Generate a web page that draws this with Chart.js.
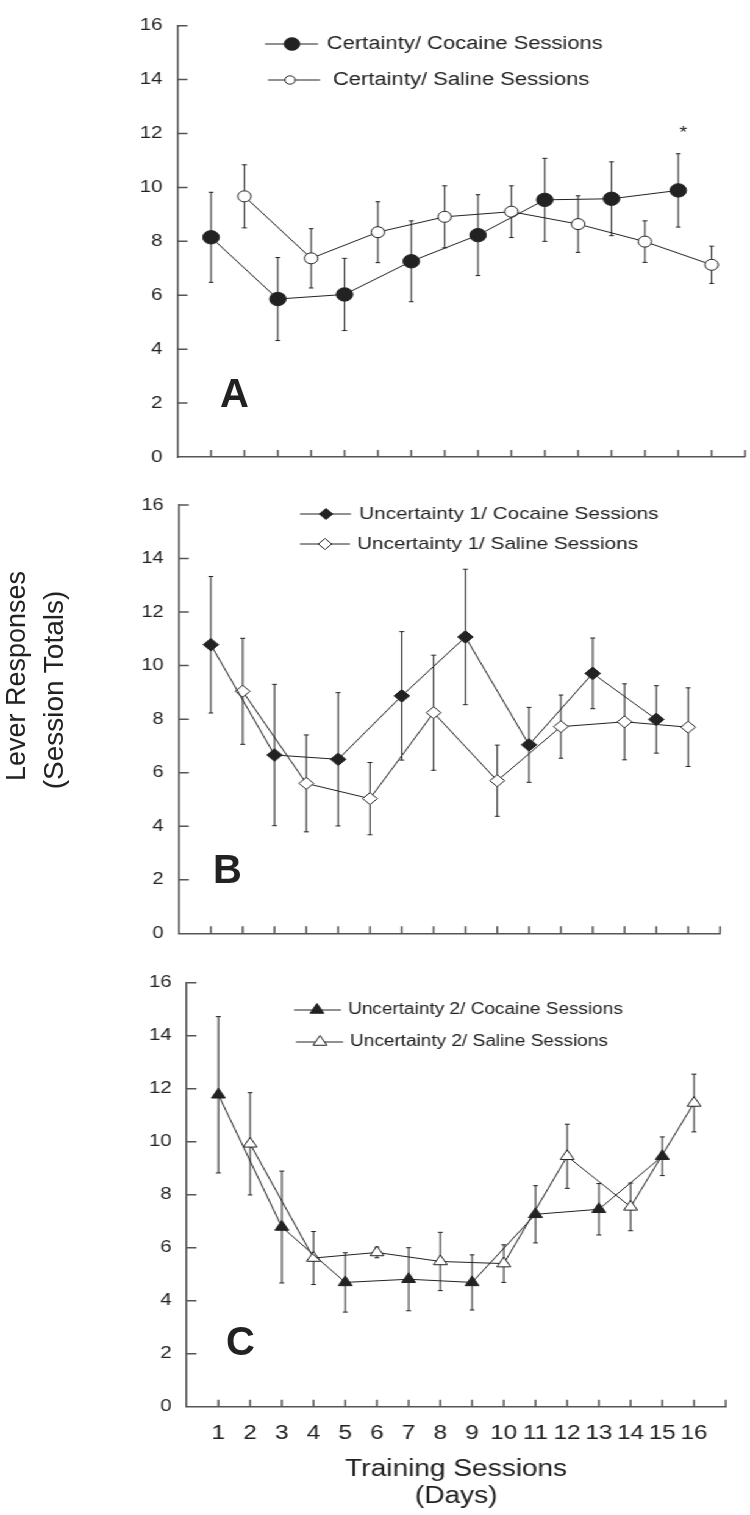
<!DOCTYPE html>
<html>
<head>
<meta charset="utf-8">
<script src="https://cdn.jsdelivr.net/npm/chart.js@4.4.1/dist/chart.umd.min.js"></script>
<style>
  html, body { margin: 0; padding: 0; background: #fff; }
  body { width: 750px; height: 1515px; position: relative; overflow: hidden;
         font-family: 'Liberation Sans', Arial, sans-serif; color: #222; }
  /* the original figure is stretched sideways, so draw narrow and widen it */
  #stretch { position: absolute; left: 0; top: 0; width: 615px; height: 1515px;
             transform: scaleX(1.21951); transform-origin: 0 0; }
  .panel { position: absolute; left: 0; width: 615px; }
  .letter { position: absolute; font-weight: bold; font-size: 40px; line-height: 40px; }
  .ytitle { position: absolute; white-space: nowrap; line-height: 30px;
            transform: translate(-50%, -50%) rotate(-90deg); }
</style>
</head>
<body>
<div id="stretch">
  <div class="panel" style="top:0;height:480px"><canvas id="chartA"></canvas></div>
  <div class="panel" style="top:480px;height:480px"><canvas id="chartB"></canvas></div>
  <div class="panel" style="top:955px;height:560px"><canvas id="chartC"></canvas></div>
</div>
<div class="letter" style="left:220px;top:373px">A</div>
<div class="letter" style="left:213px;top:849px">B</div>
<div class="letter" style="left:226px;top:1321px">C</div>
<div class="ytitle" style="left:16px;top:676px;font-size:27px">Lever Responses</div>
<div class="ytitle" style="left:54px;top:690px;font-size:28px">(Session Totals)</div>
<script>
// training days, cocaine sessions on odd days, saline on even days
const oddDays = [1, 3, 5, 7, 9, 11, 13, 15];
const evenDays = [2, 4, 6, 8, 10, 12, 14, 16];
const xTickLabels = ['1', '2', '3', '4', '5', '6', '7', '8', '9', '10', '11', '12', '13', '14', '15', '16'];
const yTicks = [0, 2, 4, 6, 8, 10, 12, 14, 16];

// A - certainty
const certCocaine = [8.15, 5.86, 6.03, 7.26, 8.23, 9.54, 9.58, 9.89];
const certCocaineErr = [1.67, 1.54, 1.34, 1.50, 1.50, 1.54, 1.37, 1.36];
const certSaline = [9.67, 7.37, 8.34, 8.91, 9.10, 8.64, 7.99, 7.13];
const certSalineErr = [1.17, 1.10, 1.13, 1.15, 0.96, 1.05, 0.77, 0.69];

// B - uncertainty 1
const unc1Cocaine = [10.78, 6.66, 6.50, 8.87, 11.07, 7.04, 9.71, 7.99];
const unc1CocaineErr = [2.55, 2.64, 2.49, 2.40, 2.53, 1.40, 1.32, 1.26];
const unc1Saline = [9.04, 5.60, 5.03, 8.24, 5.70, 7.72, 7.90, 7.70];
const unc1SalineErr = [1.98, 1.81, 1.35, 2.15, 1.33, 1.18, 1.42, 1.47];

// C - uncertainty 2
const unc2Cocaine = [11.77, 6.78, 4.69, 4.81, 4.69, 7.26, 7.45, 9.45];
const unc2CocaineErr = [2.95, 2.11, 1.12, 1.19, 1.04, 1.08, 0.97, 0.73];
const unc2Saline = [9.92, 5.61, 5.82, 5.48, 5.40, 9.45, 7.54, 11.46];
const unc2SalineErr = [1.93, 1.00, 0.20, 1.10, 0.71, 1.21, 0.90, 1.09];

Chart.defaults.font.family = "'Liberation Sans', Arial, sans-serif";
Chart.defaults.color = '#222';
Chart.defaults.animation = false;

const ink = '#222';
const axisInk = '#555';
const W = 615;

const series = (label, days, means, errs, style, radius, fill) => ({
  label: label,
  data: days.map((d, i) => ({ x: d, y: means[i] })),
  errors: errs,
  borderColor: ink,
  borderWidth: 1,
  pointStyle: style,
  pointRadius: radius,
  pointHoverRadius: radius,
  pointBackgroundColor: fill,
  pointBorderColor: ink,
  pointBorderWidth: 1,
  tension: 0,
  fill: false,
});

// error bars, inward ticks, legend and star
const panelExtras = {
  id: 'panelExtras',
  beforeDatasetsDraw(chart) {
    const { ctx } = chart;
    const x = chart.scales.x, y = chart.scales.y;
    const cap = 2;
    ctx.save();
    ctx.strokeStyle = ink;
    ctx.lineWidth = 1;
    chart.data.datasets.forEach((ds) => {
      ds.data.forEach((p, i) => {
        const e = ds.errors[i];
        const px = x.getPixelForValue(p.x);
        const top = y.getPixelForValue(p.y + e);
        const bot = y.getPixelForValue(p.y - e);
        ctx.beginPath();
        ctx.moveTo(px, top); ctx.lineTo(px, bot);
        ctx.moveTo(px - cap, top); ctx.lineTo(px + cap, top);
        ctx.moveTo(px - cap, bot); ctx.lineTo(px + cap, bot);
        ctx.stroke();
      });
    });
    ctx.restore();
  },
  afterDraw(chart, args, opts) {
    const { ctx, chartArea } = chart;
    const x = chart.scales.x, y = chart.scales.y;
    ctx.save();
    // ticks pointing into the plot
    ctx.strokeStyle = axisInk;
    ctx.lineWidth = 1.5;
    ctx.beginPath();
    yTicks.forEach((v) => {
      if (v === 0) return;
      const py = y.getPixelForValue(v);
      ctx.moveTo(chartArea.left, py); ctx.lineTo(chartArea.left + 8, py);
    });
    x.ticks.map((t) => t.value).concat([x.max]).forEach((v) => {
      const px = x.getPixelForValue(v);
      ctx.moveTo(px, chartArea.bottom); ctx.lineTo(px, chartArea.bottom - 7);
    });
    ctx.stroke();

    // legend: line - marker - text
    ctx.font = opts.legendFont + "px 'Liberation Sans', Arial, sans-serif";
    ctx.textBaseline = 'middle';
    ctx.textAlign = 'left';
    opts.legend.forEach((item, i) => {
      const ds = chart.data.datasets[i];
      ctx.strokeStyle = ink;
      ctx.lineWidth = 1;
      ctx.beginPath();
      ctx.moveTo(item.x1, item.y); ctx.lineTo(item.x2, item.y);
      ctx.stroke();
      ctx.fillStyle = ds.pointBackgroundColor;
      Chart.helpers.drawPoint(ctx, { pointStyle: ds.pointStyle, radius: item.r, borderWidth: 1, rotation: 0 }, item.mx, item.y);
      ctx.fillStyle = ink;
      ctx.fillText(ds.label, item.tx, item.y);
    });

    if (opts.star) {
      ctx.font = "16px 'Liberation Sans', Arial, sans-serif";
      ctx.textAlign = 'center';
      ctx.fillText('*', x.getPixelForValue(opts.star.day), y.getPixelForValue(opts.star.value));
    }
    ctx.restore();
  },
};

function makePanel(id, datasets, box, extras) {
  return new Chart(document.getElementById(id), {
    type: 'line',
    data: { datasets: datasets },
    plugins: [panelExtras],
    options: {
      responsive: true,
      maintainAspectRatio: false,
      events: [],
      layout: { autoPadding: false, padding: { left: 0, top: box.top, right: W - box.right, bottom: 0 } },
      plugins: {
        legend: { display: false },
        tooltip: { enabled: false },
        panelExtras: extras,
      },
      scales: {
        x: {
          type: 'linear',
          min: 0,
          max: 17,
          afterBuildTicks: (s) => { s.ticks = xTickLabels.map((t) => ({ value: Number(t) })); },
          afterFit: (s) => { s.height = box.h - box.bottom; },
          grid: { display: false, drawTicks: false },
          border: { display: true, color: axisInk, width: 1.5 },
          ticks: {
            display: !!box.labels,
            padding: 15,
            autoSkip: false,
            maxRotation: 0,
            font: { size: 20 },
            callback: (v) => xTickLabels[v - 1],
          },
          title: {
            display: !!box.labels,
            text: ['Training Sessions', '(Days)'],
            font: { size: 23, lineHeight: 27 / 23 },
            padding: { top: 0, bottom: 4.5 },
            color: ink,
          },
        },
        y: {
          min: 0,
          max: 16,
          afterBuildTicks: (s) => { s.ticks = yTicks.map((v) => ({ value: v })); },
          afterFit: (s) => { s.width = box.left; },
          grid: { display: false, drawTicks: false },
          border: { display: true, color: axisInk, width: 1.5 },
          ticks: { padding: 12.5, font: { size: 16.5 } },
        },
      },
    },
  });
}

makePanel('chartA', [
  series('Certainty/ Cocaine Sessions', oddDays, certCocaine, certCocaineErr, 'circle', 6.7, ink),
  series('Certainty/ Saline Sessions', evenDays, certSaline, certSalineErr, 'circle', 5.5, '#fff'),
], { left: 145.7, right: 610.9, top: 25.7, bottom: 457, h: 480 }, {
  legendFont: 18,
  legend: [
    { x1: 217.3, x2: 260.8, mx: 239.4, tx: 268.1, y: 44, r: 6.3 },
    { x1: 219.8, x2: 262.4, mx: 237.8, tx: 273.1, y: 80, r: 4.2 },
  ],
  star: { day: 15.15, value: 12.0 },
});

makePanel('chartB', [
  series('Uncertainty 1/ Cocaine Sessions', oddDays, unc1Cocaine, unc1CocaineErr, 'rectRot', 6.3, ink),
  series('Uncertainty 1/ Saline Sessions', evenDays, unc1Saline, unc1SalineErr, 'rectRot', 6.0, '#fff'),
], { left: 146.8, right: 590.4, top: 25, bottom: 453.3, h: 480 }, {
  legendFont: 17,
  legend: [
    { x1: 246, x2: 287.8, mx: 267.3, tx: 294.4, y: 34, r: 5.5 },
    { x1: 246, x2: 287, mx: 266.5, tx: 292.7, y: 64, r: 5.5 },
  ],
});

makePanel('chartC', [
  series('Uncertainty 2/ Cocaine Sessions', oddDays, unc2Cocaine, unc2CocaineErr, 'triangle', 6.5, ink),
  series('Uncertainty 2/ Saline Sessions', evenDays, unc2Saline, unc2SalineErr, 'triangle', 6.5, '#fff'),
], { left: 153.1, right: 595.1, top: 27.7, bottom: 451.7, h: 560, labels: true }, {
  legendFont: 15.6,
  legend: [
    { x1: 241.1, x2: 279.6, mx: 259.9, tx: 285.4, y: 55, r: 6.5 },
    { x1: 242.7, x2: 281.3, mx: 262.4, tx: 287, y: 87, r: 6.5 },
  ],
});
</script>
</body>
</html>
